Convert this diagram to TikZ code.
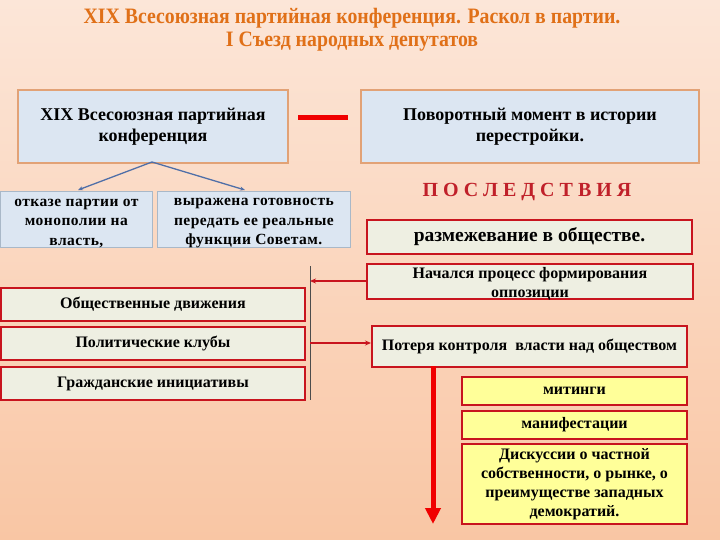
\documentclass[tikz,border=0pt]{standalone}
\usepackage{fontspec}
\setmainfont{Liberation Serif}
\usetikzlibrary{arrows.meta}
\definecolor{bgtop}{HTML}{FCE6D8}
\definecolor{bgbot}{HTML}{F9C6A4}
\definecolor{titlecol}{HTML}{E07018}
\definecolor{boxblue}{HTML}{DCE6F2}
\definecolor{tanborder}{HTML}{E2A276}
\definecolor{thinblue}{HTML}{A9B8C8}
\definecolor{boxred}{HTML}{C8141E}
\definecolor{boxgray}{HTML}{EEEFE2}
\definecolor{boxyellow}{HTML}{FFFF99}
\definecolor{arrowblue}{HTML}{4F6FA8}
\definecolor{conseq}{HTML}{C0202A}
\definecolor{brightred}{HTML}{F00000}
\tikzset{
  titletext/.style={font=\fontsize{22}{24}\selectfont\bfseries, text=titlecol, inner sep=0},
  bluebox/.style={draw=tanborder, line width=2pt, fill=boxblue, anchor=north west, inner sep=0},
  smallblue/.style={draw=thinblue, line width=0.8pt, fill=boxblue, anchor=north west, inner sep=0},
  redbox/.style={draw=boxred, line width=2pt, fill=boxgray, anchor=north west, inner sep=0},
  yellowbox/.style={draw=boxred, line width=2pt, fill=boxyellow, anchor=north west, inner sep=0},
  bigtext/.style={font=\fontsize{18}{21}\selectfont\bfseries, align=center},
  midtext/.style={font=\fontsize{16}{19}\selectfont\bfseries, align=center},
  smalltext/.style={font=\fontsize{15.5}{19.5}\selectfont\bfseries\addfontfeature{LetterSpace=3}, align=center},
  bluearrow/.style={draw=arrowblue, line width=1.3pt, -{Stealth[length=5pt,width=4pt]}},
  redarrow/.style={draw=boxred, line width=1.3pt, -{Stealth[length=6pt,width=5pt]}},
}
\begin{document}
\begin{tikzpicture}[x=1pt,y=-1pt]
\shade[top color=bgtop, bottom color=bgbot] (0,0) rectangle (720,540);
\useasboundingbox (0,0) rectangle (720,540);

% title
\node[titletext] (t1) at (352,18) {\scalebox{0.9}[1]{XIX Всесоюзная партийная конференция. Раскол в партии.}};
\node[titletext] (t2) at (352,42) {\scalebox{0.9}[1]{I Съезд народных депутатов}};

% top boxes
\node[bluebox, minimum width=270, minimum height=73] (conf) at (17,89) {};
\node[bigtext] at (conf.center) {XIX Всесоюзная партийная\\конференция};
\node[bluebox, minimum width=338, minimum height=73] (turn) at (360,89) {};
\node[bigtext] at (turn.center) {Поворотный момент в истории\\перестройки.};
\coordinate (d1) at (298,118);
\coordinate (d2) at (348,118);
\draw[brightred, line width=5pt] (d1) -- (d2);

% sub boxes
\node[smallblue, minimum width=152, minimum height=56] (refuse) at (0,191) {};
\node[smalltext] at ([yshift=-4pt]refuse.center) {отказе партии от\\монополии на\\власть,};
\node[smallblue, minimum width=193, minimum height=56] (ready) at (157,191) {};
\node[smalltext] at ([yshift=-4pt]ready.center) {выражена готовность\\передать ее реальные\\функции Советам.};
\coordinate (cs) at (152,162);
\draw[bluearrow] (cs) -- (78,190);
\draw[bluearrow] (cs) -- (245,190);

% consequences
\node[font=\fontsize{20}{22}\selectfont\bfseries, text=conseq] (posl) at (527,192) {П О С Л Е Д С Т В И Я};
\node[redbox, minimum width=325, minimum height=34] (split) at (366,219) {};
\node[font=\fontsize{19.5}{22}\selectfont\bfseries] at (split.center) {размежевание в обществе.};
\node[redbox, minimum width=326, minimum height=35] (opp) at (366,263) {};
\node[midtext] at ([yshift=-2pt]opp.center) {Начался процесс формирования\\оппозиции};

% vertical line
\coordinate (vtop) at (310,266);
\coordinate (vbot) at (310,400);
\draw[black!70, line width=0.8pt] (vtop) -- (vbot);
\coordinate (va) at (310,281);
\coordinate (vb) at (310,343);

% left boxes
\node[redbox, minimum width=304, minimum height=33] (obs) at (0,287) {};
\node[midtext] at (obs.center) {Общественные движения};
\node[redbox, minimum width=304, minimum height=33] (pol) at (0,326) {};
\node[midtext] at (pol.center) {Политические клубы};
\node[redbox, minimum width=304, minimum height=33] (grazh) at (0,366) {};
\node[midtext] at (grazh.center) {Гражданские инициативы};

% loss of control
\node[redbox, minimum width=315, minimum height=41] (loss) at (371,325) {};
\node[midtext] at (loss.center) {Потеря контроля\ \ власти над обществом};

\draw[redarrow] (opp.west |- va) -- (va);
\draw[redarrow] (vb) -- (loss.west |- vb);

% thick arrow
\coordinate (ktop) at (433,366);
\coordinate (kbot) at (433,524);
\draw[brightred, line width=5pt, -{Triangle[length=16pt,width=15pt]}] (ktop) -- (kbot);

% yellow boxes
\node[yellowbox, minimum width=225, minimum height=28] (mit) at (461,376) {};
\node[midtext] at (mit.center) {митинги};
\node[yellowbox, minimum width=225, minimum height=28] (man) at (461,410) {};
\node[midtext] at (man.center) {манифестации};
\node[yellowbox, minimum width=225, minimum height=80] (disc) at (461,443) {};
\node[font=\fontsize{16}{19}\selectfont\bfseries, align=center] at (disc.center) {Дискуссии о частной\\собственности, о рынке, о\\преимуществе западных\\демократий.};
\end{tikzpicture}
\end{document}
